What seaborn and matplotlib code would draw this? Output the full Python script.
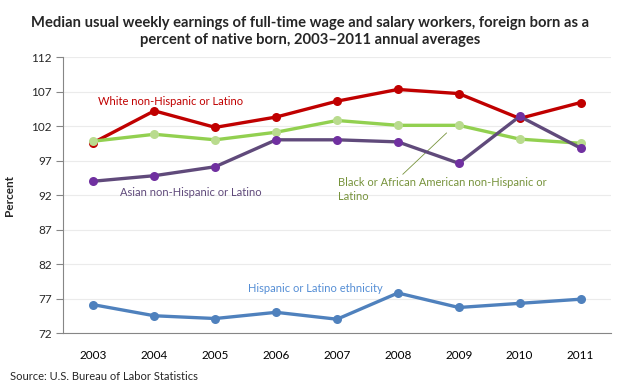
import numpy as np
import pandas as pd
import matplotlib
matplotlib.use("Agg")
import matplotlib.pyplot as plt
import seaborn as sns

years = ["2003", "2004", "2005", "2006", "2007", "2008", "2009", "2010", "2011"]
white = [99.6, 104.2, 101.8, 103.3, 105.6, 107.3, 106.7, 103.1, 105.4]
black = [99.8, 100.8, 100.0, 101.1, 102.8, 102.1, 102.1, 100.1, 99.5]
asian = [94.0, 94.8, 96.1, 100.0, 100.0, 99.7, 96.6, 103.4, 98.8]
hispanic = [76.1, 74.5, 74.1, 75.0, 74.0, 77.8, 75.7, 76.3, 76.9]

sns.set_style("white")
plt.rcParams["font.family"] = ["Lato", "DejaVu Sans"]

pos = np.arange(len(years))
df = pd.DataFrame({"pos": pos, "white": white, "black": black,
                   "asian": asian, "hispanic": hispanic})

fig = plt.figure(figsize=(6.2, 3.91), dpi=100)
ax = fig.add_axes([0.1016, 0.1483, 0.8839, 0.7059])

# series drawn in this order so overlaps look like the original
series = [
    ("hispanic", "#4F81BD", "#4F81BD"),
    ("white", "#C00000", "#C00000"),
    ("black", "#92D050", "#B9DB8E"),
    ("asian", "#604A7B", "#7030A0"),
]
for col, lc, mc in series:
    sns.lineplot(data=df, x="pos", y=col, ax=ax, color=lc, linewidth=2.4,
                 marker="o", markersize=6.5, markerfacecolor=mc,
                 markeredgecolor=mc, markeredgewidth=0, zorder=3)

ax.set_xlim(-0.5, len(years) - 0.5)
ax.set_ylim(72, 112)
ax.set_yticks(np.arange(72, 113, 5))
ax.set_xticks(pos)
ax.set_xticklabels(years)
ax.set_xticks(np.arange(-0.5, len(years), 1), minor=True)
ax.tick_params(axis="x", which="major", length=0, pad=12, labelsize=8.5, colors="black")
ax.tick_params(axis="x", which="minor", length=5, width=0.8, color="#868686", direction="out")
ax.tick_params(axis="y", length=5, width=0.8, color="#868686", direction="out",
               labelsize=8.5, pad=3, left=True)
ax.grid(axis="y", color="#EBEBEB", linewidth=0.8)
ax.set_axisbelow(True)
for s in ["top", "right"]:
    ax.spines[s].set_visible(False)
for s in ["left", "bottom"]:
    ax.spines[s].set_color("#868686")
    ax.spines[s].set_linewidth(0.8)

ax.set_xlabel("")
ax.set_ylabel("Percent", fontsize=8.5, fontweight="bold", labelpad=12)

ax.text(0.07, 105.6, "White non-Hispanic or Latino", color="#C00000",
        fontsize=8, va="center", ha="left")
ax.text(0.44, 92.3, "Asian non-Hispanic or Latino", color="#604A7B",
        fontsize=8, va="center", ha="left")
ax.text(4.01, 94.6, "Black or African American non-Hispanic or\nLatino",
        color="#77933C", fontsize=8, va="top", ha="left", linespacing=1.35)
ax.text(2.54, 78.4, "Hispanic or Latino ethnicity", color="#558ED5",
        fontsize=8, va="center", ha="left")
ax.plot([5.80, 5.08], [101.0, 95.0], color="#77933C", linewidth=0.6, zorder=2)

fig.text(0.5, 0.96, "Median usual weekly earnings of full-time wage and salary workers, foreign born as a\npercent of native born, 2003\u20132011 annual averages",
         ha="center", va="top", fontsize=10.6, fontweight="bold", linespacing=1.3)
fig.text(0.016, 0.038, "Source: U.S. Bureau of Labor Statistics", fontsize=8, ha="left", va="center")

fig.savefig("out.png", dpi=100)
